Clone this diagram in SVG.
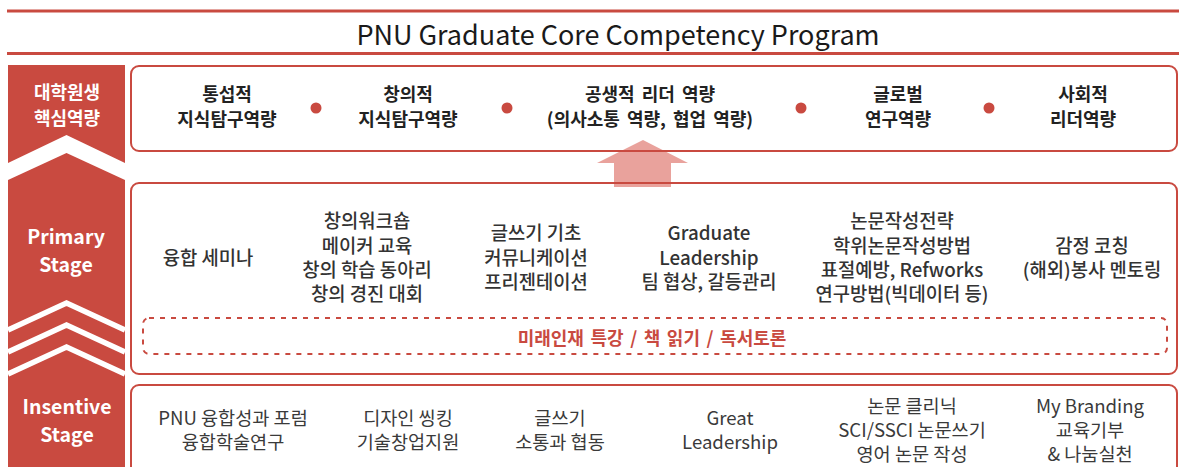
<svg xmlns="http://www.w3.org/2000/svg" width="1179" height="467" viewBox="0 0 1179 467">
<style>
text{font-family:"Noto Sans CJK KR","Noto Sans",sans-serif;text-anchor:middle;dominant-baseline:central}
.title{font-size:27px;fill:#1a1a1a}
.side{font-size:18px;font-weight:700;fill:#fff}
.sideL{font-size:19.5px;font-weight:700;fill:#fff}
.r1{font-size:18px;font-weight:700;fill:#222;word-spacing:3px}
.r2{font-size:18.8px;font-weight:500;fill:#333}
.r3{font-size:18.6px;font-weight:400;fill:#3a3a3a}
.red{fill:#c94a40}
.box{fill:none;stroke:#c94a40;stroke-width:2}
.chev{fill:none;stroke:#fff;stroke-width:5.5;stroke-linejoin:miter}
.dash{font-size:18px;font-weight:700;fill:#c94a40;word-spacing:2.5px}
</style>
<rect width="1179" height="467" fill="#fff"/>
<g id="header">
<rect x="7" y="9.5" width="1172" height="3" class="red"/>
<rect x="7" y="52" width="1172" height="3" class="red"/>
<text class="title" x="618" y="33">PNU Graduate Core Competency Program</text>
</g>
<g id="connectors">
<polygon points="643,140 688,163 671,163 671,187 614,187 614,163 597,163" fill="#e9a29c"/>
</g>
<g id="stage-column">
<rect x="8" y="65" width="117" height="402" class="red"/>
<polygon points="8,163 66.5,135 125,163 125,180 66.5,153 8,180" fill="#fff"/>
<polyline class="chev" points="8,330 66.5,303 125,330"/>
<polyline class="chev" points="8,352 66.5,325 125,352"/>
<polyline class="chev" points="8,374 66.5,347 125,374"/>
<text class="side" x="67" y="91">대학원생</text>
<text class="side" x="67" y="117">핵심역량</text>
<text class="sideL" x="66" y="235">Primary</text>
<text class="sideL" x="66" y="263">Stage</text>
<text class="sideL" x="67" y="405">Insentive</text>
<text class="sideL" x="67" y="433">Stage</text>
</g>
<g id="core-competency">
<rect x="131" y="66" width="1046" height="85" rx="8" class="box"/>
<text class="r1" x="227" y="93">통섭적</text>
<text class="r1" x="227" y="118">지식탐구역량</text>
<circle cx="316" cy="108" r="5.5" class="red"/>
<text class="r1" x="408" y="93">창의적</text>
<text class="r1" x="408" y="118">지식탐구역량</text>
<circle cx="507" cy="108" r="5.5" class="red"/>
<text class="r1" x="650" y="93">공생적 리더 역량</text>
<text class="r1" x="650" y="118">(의사소통 역량, 협업 역량)</text>
<circle cx="801" cy="108" r="5.5" class="red"/>
<text class="r1" x="898" y="93">글로벌</text>
<text class="r1" x="898" y="118">연구역량</text>
<circle cx="989" cy="108" r="5.5" class="red"/>
<text class="r1" x="1083" y="93">사회적</text>
<text class="r1" x="1083" y="118">리더역량</text>
</g>
<g id="primary-stage">
<rect x="131" y="183" width="1046" height="191" rx="8" class="box"/>
<text class="r2" x="208" y="256">융합 세미나</text>
<text class="r2" x="367" y="219">창의워크숍</text>
<text class="r2" x="367" y="244">메이커 교육</text>
<text class="r2" x="367" y="268">창의 학습 동아리</text>
<text class="r2" x="367" y="292">창의 경진 대회</text>
<text class="r2" x="536" y="231">글쓰기 기초</text>
<text class="r2" x="536" y="256">커뮤니케이션</text>
<text class="r2" x="536" y="280">프리젠테이션</text>
<text class="r2" x="709" y="231">Graduate</text>
<text class="r2" x="709" y="256">Leadership</text>
<text class="r2" x="709" y="280">팀 협상, 갈등관리</text>
<text class="r2" x="902" y="219">논문작성전략</text>
<text class="r2" x="902" y="244">학위논문작성방법</text>
<text class="r2" x="902" y="268">표절예방, Refworks</text>
<text class="r2" x="902" y="292">연구방법(빅데이터 등)</text>
<text class="r2" x="1092" y="244">감정 코칭</text>
<text class="r2" x="1092" y="268">(해외)봉사 멘토링</text>
</g>
<g id="common-program">
<rect x="143" y="318" width="1024" height="36" rx="6" fill="none" stroke="#c94a40" stroke-width="2" stroke-dasharray="5 6"/>
<text class="dash" x="652" y="337">미래인재 특강 / 책 읽기 / 독서토론</text>
</g>
<g id="insentive-stage">
<rect x="131" y="385" width="1046" height="100" rx="8" class="box"/>
<text class="r3" x="233" y="416">PNU 융합성과 포럼</text>
<text class="r3" x="233" y="440">융합학술연구</text>
<text class="r3" x="408" y="416">디자인 씽킹</text>
<text class="r3" x="408" y="440">기술창업지원</text>
<text class="r3" x="560" y="416">글쓰기</text>
<text class="r3" x="560" y="440">소통과 협동</text>
<text class="r3" x="730" y="416">Great</text>
<text class="r3" x="730" y="440">Leadership</text>
<text class="r3" x="912" y="404">논문 클리닉</text>
<text class="r3" x="912" y="428">SCI/SSCI 논문쓰기</text>
<text class="r3" x="912" y="452">영어 논문 작성</text>
<text class="r3" x="1090" y="404">My Branding</text>
<text class="r3" x="1090" y="428">교육기부</text>
<text class="r3" x="1090" y="452">&amp; 나눔실천</text>
</g>
</svg>
